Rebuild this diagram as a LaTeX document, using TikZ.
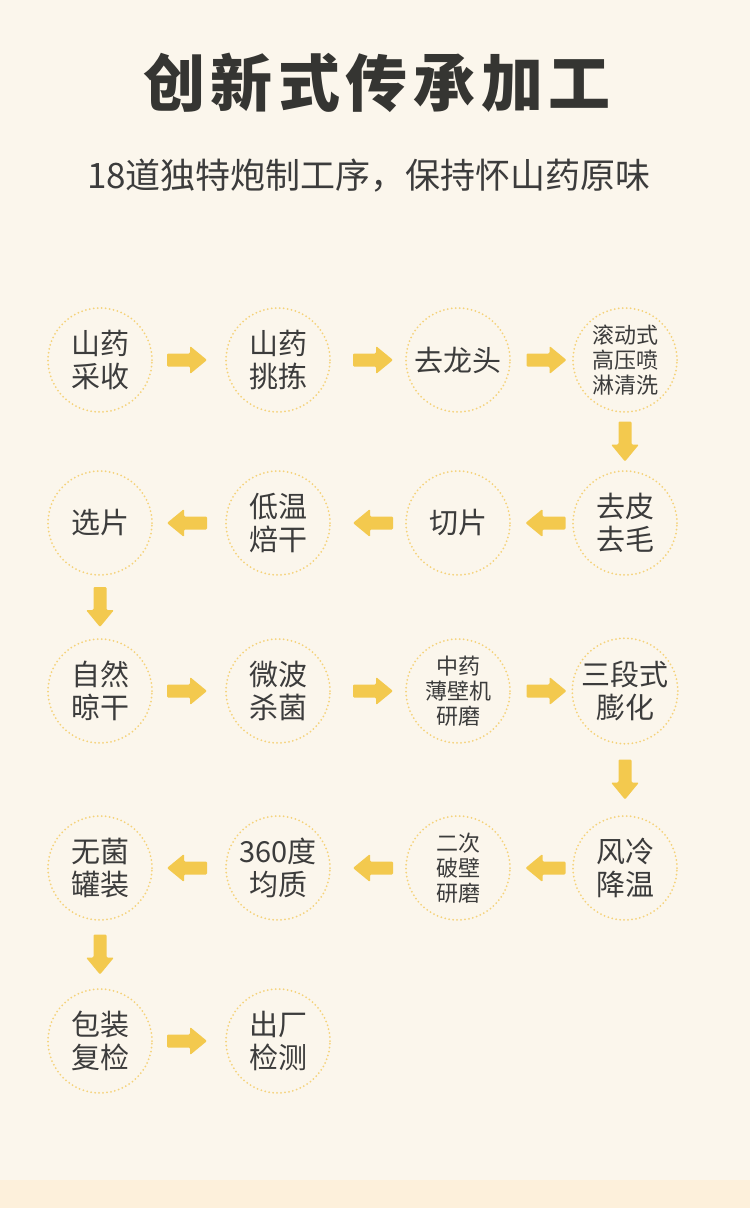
\documentclass[tikz,border=0pt]{standalone}
\usepackage{fontspec}
\setmainfont{Noto Sans CJK SC}
\usetikzlibrary{calc}
\definecolor{bg}{HTML}{FBF6EC}
\definecolor{band}{HTML}{FDF0DB}
\definecolor{circc}{HTML}{F5D27A}
\definecolor{arrowc}{HTML}{F3C94E}
\definecolor{txt}{HTML}{3C3C3C}
\definecolor{ttl}{HTML}{353532}
\begin{document}
\begin{tikzpicture}[x=1pt,y=-1pt,
  proc/.style={circle, draw=circc, line width=2pt, dash pattern=on 0pt off 4pt, line cap=round,
    minimum size=104pt, inner sep=0pt, align=center, text=txt, font=\fontsize{29}{33}\selectfont},
  small/.style={font=\fontsize{22}{25}\selectfont},
  blk/.pic={\fill[arrowc, rounded corners=1.2pt] (-20,-6.5) -- (3,-6.5) -- (3,-14) -- (20,0) -- (3,14) -- (3,6.5) -- (-20,6.5) -- cycle;}]
\fill[bg] (0,0) rectangle (750,1208);
\fill[band] (0,1180) rectangle (750,1208);
\useasboundingbox (0,0) rectangle (750,1208);

\node[text=ttl, font=\fontsize{62}{62}\selectfont\bfseries\addfontfeatures{LetterSpace=9}] (title) at (377,83) {创新式传承加工};
\node[text=txt, font=\fontsize{35}{35}\selectfont] (sub) at (369,176) {18道独特炮制工序，保持怀山药原味};

\node[proc] (a1) at (100,360) {山药\\采收};
\node[proc] (a2) at (278,360) {山药\\挑拣};
\node[proc] (a3) at (458,360) {去龙头};
\node[proc, small] (a4) at (625,360) {滚动式\\高压喷\\淋清洗};
\node[proc] (b4) at (625,523) {去皮\\去毛};
\node[proc] (b3) at (458,523) {切片};
\node[proc] (b2) at (278,523) {低温\\焙干};
\node[proc] (b1) at (100,523) {选片};
\node[proc] (c1) at (100,691) {自然\\晾干};
\node[proc] (c2) at (278,691) {微波\\杀菌};
\node[proc, small] (c3) at (458,691) {中药\\薄壁机\\研磨};
\node[proc] (c4) at (625,691) {三段式\\膨化};
\node[proc] (d4) at (625,868) {风冷\\降温};
\node[proc, small] (d3) at (458,868) {二次\\破壁\\研磨};
\node[proc] (d2) at (278,868) {360度\\均质};
\node[proc] (d1) at (100,868) {无菌\\罐装};
\node[proc] (e1) at (100,1041) {包装\\复检};
\node[proc] (e2) at (278,1041) {出厂\\检测};

\foreach \p/\q/\r/\s in {a1/a2/0/-2, a2/a3/0/5, a3/a4/0/5, a4/b4/-90/0, b4/b3/180/4, b3/b2/180/5, b2/b1/180/-2,
  b1/c1/-90/0, c1/c2/0/-2, c2/c3/0/5, c3/c4/0/5, c4/d4/-90/0, d4/d3/180/4, d3/d2/180/5, d2/d1/180/-2,
  d1/e1/-90/0, e1/e2/0/-2}
  \pic[rotate=\r] at ($(\p)!0.5!(\q)+(\s,0)$) {blk};
\end{tikzpicture}
\end{document}
